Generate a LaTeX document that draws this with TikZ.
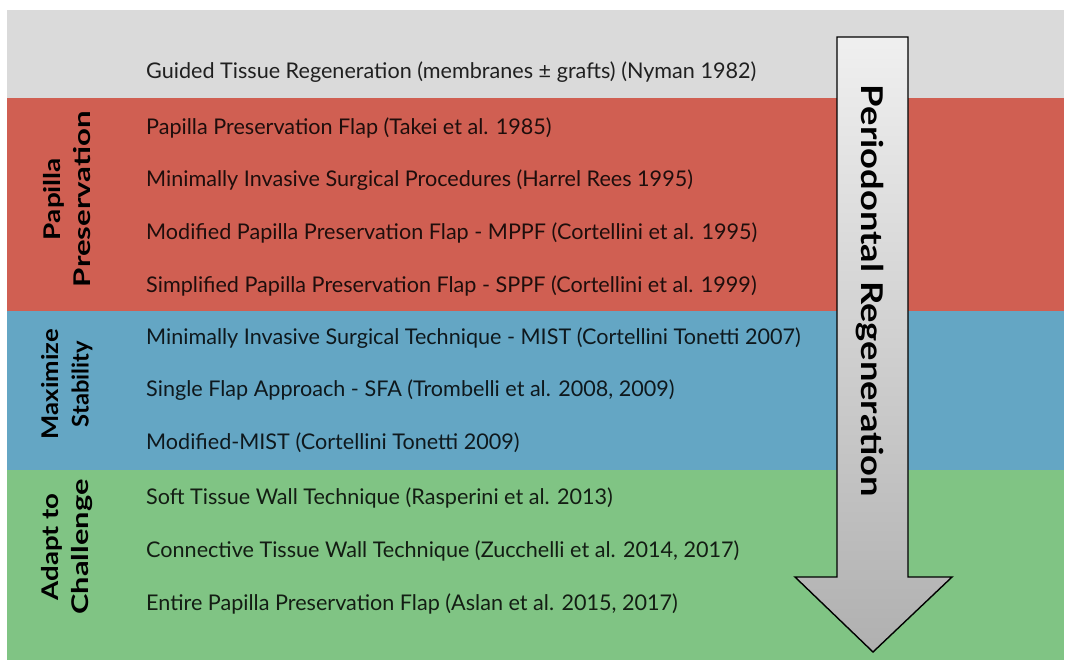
\documentclass[tikz,border=0pt]{standalone}
\usepackage{fontspec}
\usepackage{graphicx}
\setmainfont{Lato}
\definecolor{bandgray}{RGB}{218,218,218}
\definecolor{bandred}{RGB}{208,95,82}
\definecolor{bandblue}{RGB}{100,166,196}
\definecolor{bandgreen}{RGB}{128,196,132}
\newcommand{\fitw}[2]{\resizebox{#1pt}{\height}{#2}}
\begin{document}
\begin{tikzpicture}[x=1pt,y=-1pt,
  item/.style={anchor=west,inner sep=0pt,text=black,text opacity=0.85,font=\fontsize{21.6}{24}\selectfont},
  group/.style={rotate=90,align=center,inner sep=0pt,font=\bfseries\fontsize{23}{30}\selectfont},
  arrowlabel/.style={rotate=-90,inner sep=0pt,font=\bfseries\fontsize{30}{34}\selectfont}]
\useasboundingbox (0,0) rectangle (1068,662);
\fill[white] (0,0) rectangle (1068,662);
\fill[bandgray]  (7,10)  rectangle (1064,98);
\fill[bandred]   (7,98)  rectangle (1064,311);
\fill[bandblue]  (7,311) rectangle (1064,470);
\fill[bandgreen] (7,470) rectangle (1064,660);
% arrow
\shade[top color=gray!12,bottom color=gray!62,draw=black,line width=1.4pt,line join=miter]
  (837,37) -- (908,37) -- (908,577) -- (952,577) -- (873,652) -- (795,577) -- (837,577) -- cycle;
\node[arrowlabel] (arr) at (870,291) {\fitw{412}{Periodontal Regeneration}};
% group labels
\node[group] (g1) at (67,199) {\fitw{82}{Papilla}\\\fitw{176}{Preservation}};
\node[group] (g2) at (67,384) {\fitw{110}{Maximize}\\\fitw{86}{Stability}};
\node[group] (g3) at (67,547) {\fitw{107}{Adapt to}\\\fitw{135}{Challenge}};
% items
\node[item] (t0) at (146,72) {Guided Tissue Regeneration (membranes ± grafts) (Nyman 1982)};
\node[item] (t1) at (146,128) {Papilla Preservation Flap (Takei et al. 1985)};
\node[item] (t2) at (146,180) {Minimally Invasive Surgical Procedures (Harrel Rees 1995)};
\node[item] (t3) at (146,233) {Modified Papilla Preservation Flap - MPPF (Cortellini et al. 1995)};
\node[item] (t4) at (146,286) {Simplified Papilla Preservation Flap - SPPF (Cortellini et al. 1999)};
\node[item] (t5) at (146,338) {Minimally Invasive Surgical Technique - MIST (Cortellini Tonetti 2007)};
\node[item] (t6) at (146,390) {Single Flap Approach - SFA (Trombelli et al. 2008, 2009)};
\node[item] (t7) at (146,443) {Modified-MIST (Cortellini Tonetti 2009)};
\node[item] (t8) at (146,498) {Soft Tissue Wall Technique (Rasperini et al. 2013)};
\node[item] (t9) at (146,551) {Connective Tissue Wall Technique (Zucchelli et al. 2014, 2017)};
\node[item] (t10) at (146,604) {Entire Papilla Preservation Flap (Aslan et al. 2015, 2017)};
\end{tikzpicture}
\end{document}
